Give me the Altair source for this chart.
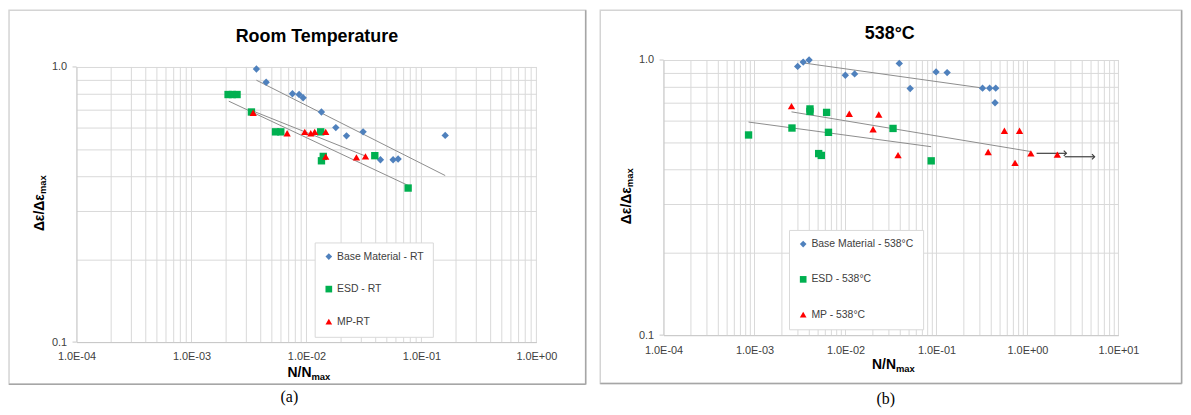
import math
import altair as alt
import pandas as pd

# ---------------- data ----------------
# (a) Room Temperature
rt_names = ["Base Material - RT", "ESD - RT", "MP-RT"]
rt_base_x = [0.00367, 0.00446, 0.00755, 0.00863, 0.00935, 0.0135, 0.0180, 0.0223, 0.0311, 0.0440, 0.0567, 0.0627, 0.161]
rt_base_y = [0.983, 0.880, 0.799, 0.794, 0.773, 0.686, 0.602, 0.562, 0.581, 0.460, 0.460, 0.463, 0.564]
rt_esd_x = [0.00208, 0.00227, 0.00249, 0.00332, 0.00538, 0.00598, 0.0133, 0.0135, 0.0140, 0.0393, 0.0766]
rt_esd_y = [0.794, 0.794, 0.794, 0.686, 0.581, 0.581, 0.581, 0.456, 0.473, 0.476, 0.363]
rt_mp_x = [0.00344, 0.00679, 0.00967, 0.0109, 0.0118, 0.0147, 0.0147, 0.0272, 0.0326]
rt_mp_y = [0.682, 0.574, 0.581, 0.574, 0.581, 0.581, 0.472, 0.469, 0.473]
# trend line end points (x0, y0, x1, y1)
rt_trend_base = [0.00367, 0.895, 0.161, 0.403]
rt_trend_esd = [0.00211, 0.751, 0.0766, 0.371]
rt_trend_mp = [0.00344, 0.691, 0.0332, 0.473]

# (b) 538°C
hot_names = ["Base Material - 538°C", "ESD - 538°C", "MP - 538°C"]
hot_base_x = [0.00298, 0.00343, 0.00398, 0.00996, 0.0126, 0.0390, 0.0514, 0.099, 0.131, 0.321, 0.384, 0.448, 0.44]
hot_base_y = [0.948, 0.983, 1.0, 0.880, 0.890, 0.972, 0.788, 0.905, 0.900, 0.790, 0.790, 0.790, 0.699]
hot_esd_x = [0.00086, 0.00258, 0.00407, 0.00407, 0.0062, 0.0065, 0.00507, 0.00542, 0.0333, 0.0875]
hot_esd_y = [0.534, 0.566, 0.664, 0.650, 0.645, 0.546, 0.457, 0.450, 0.564, 0.430]
hot_mp_x = [0.00255, 0.011, 0.0232, 0.0201, 0.0378, 0.370, 0.558, 0.818, 0.73, 1.09, 2.13]
hot_mp_y = [0.680, 0.638, 0.634, 0.560, 0.451, 0.463, 0.553, 0.553, 0.423, 0.458, 0.453]
hot_trend_base = [0.0035, 0.975, 0.33, 0.79]
hot_trend_esd = [0.00086, 0.595, 0.0875, 0.484]
hot_trend_mp = [0.00255, 0.648, 1.08, 0.465]
# run-out arrows (x_start, x_end, y)
hot_arrow_x0 = [1.26, 2.57]
hot_arrow_x1 = [2.68, 5.47]
hot_arrow_y = [0.458, 0.445]

# axes
x_labels_rt = ["1.0E-04", "1.0E-03", "1.0E-02", "1.0E-01", "1.0E+00"]
x_decades_rt = [1e-4, 1e-3, 1e-2, 1e-1, 1.0]
x_labels_hot = ["1.0E-04", "1.0E-03", "1.0E-02", "1.0E-01", "1.0E+00", "1.0E+01"]
x_decades_hot = [1e-4, 1e-3, 1e-2, 1e-1, 1.0, 10.0]
y_labels = ["0.1", "1.0"]
y_label_values = [0.1, 1.0]
y_grid = [0.1, 0.2, 0.3, 0.4, 0.5, 0.6, 0.7, 0.8, 0.9, 1.0]

colors = ["#4F81BD", "#00B050", "#FF0000"]
shapes = ["diamond", "square", "triangle-up"]

FONT = "Liberation Sans"
GRID = "#d9d9d9"


def x_grid(decades):
    vals = []
    for d in decades[:-1]:
        e = int(round(math.log10(d)))
        for k in range(1, 10):
            vals.append(float(f"{k}e{e}"))
    vals.append(decades[-1])
    return vals


def label_expr(values, labels):
    expr = "''"
    for v, l in reversed(list(zip(values, labels))):
        expr = f"datum.value == {repr(v)} ? '{l}' : ({expr})"
    return expr


def text_layer(txt, x, y, size, bold=True, angle=0, align="center", baseline="alphabetic",
               font=FONT, color="black"):
    return alt.Chart(pd.DataFrame({"t": [txt]})).mark_text(
        fontSize=size, fontWeight="bold" if bold else "normal", angle=angle, align=align,
        baseline=baseline, font=font, color=color
    ).encode(text="t:N", x=alt.value(x), y=alt.value(y))


def panel(names, xs, ys, trends, decades, xlabels, W, H, title, tpos, ytx, xtj, cap, cpos,
          frame, leg, shift=0, arrows=None):
    # shift: how far the plot area sits above the (layout-aligned) group top
    s = shift
    Hg = H - s
    xdom = [decades[0], decades[-1]]
    xscale = alt.Scale(type="log", domain=xdom, nice=False)
    yscale = alt.Scale(type="log", domain=[0.1, 1.0], nice=False, range=[Hg, -s])
    xaxis = alt.Axis(values=decades, labelExpr=label_expr(decades, xlabels), title=None,
                     grid=False, ticks=False, tickSize=0,
                     domainColor="#c8c8c8", labelFont=FONT, labelFontSize=11, labelColor="#404040",
                     labelPadding=9, labelFlush=False, labelOverlap=False)
    yaxis = alt.Axis(values=y_grid, labelExpr=label_expr(y_label_values, y_labels), title=None,
                     grid=True, gridColor=GRID, gridWidth=1, ticks=False, tickSize=0,
                     domainColor="#c8c8c8", labelFont=FONT, labelFontSize=11, labelColor="#404040",
                     labelPadding=10, labelFlush=False, labelOverlap=False)

    def X(f):
        return alt.X(f"{f}:Q", scale=xscale, axis=xaxis)

    def Y(f):
        return alt.Y(f"{f}:Q", scale=yscale, axis=yaxis)

    rows = []
    for n, xx, yy in zip(names, xs, ys):
        for a, b in zip(xx, yy):
            rows.append({"series": n, "x": a, "y": b})
    pts_df = pd.DataFrame(rows)

    trows = []
    for n, t in zip(names, trends):
        trows.append({"series": n, "x": t[0], "y": t[1]})
        trows.append({"series": n, "x": t[2], "y": t[3]})
    tr_df = pd.DataFrame(trows)

    one = pd.DataFrame({"a": [0]})
    fx0, fx1, fy0, fy1 = frame
    fy0 -= s
    fy1 -= s
    layers = [
        alt.Chart(one).mark_rect(fill="white", fillOpacity=0, stroke="#d4d4d4", strokeWidth=1.5).encode(
            x=alt.value(fx0), x2=alt.value(fx1), y=alt.value(fy0), y2=alt.value(fy1)),
        alt.Chart(one).mark_rule(color="#a6a6a6", strokeWidth=1.5).encode(
            x=alt.value(fx1), y=alt.value(fy0), y2=alt.value(fy1)),
        alt.Chart(one).mark_rule(color="#a6a6a6", strokeWidth=1.5).encode(
            x=alt.value(fx0), x2=alt.value(fx1), y=alt.value(fy1)),
    ]

    # vertical log grid lines
    gx_df = pd.DataFrame({"gx": x_grid(decades)})
    layers.append(alt.Chart(gx_df).mark_rule(color=GRID, strokeWidth=1).encode(
        x=X("gx"), y=alt.value(-s), y2=alt.value(Hg)))

    # y tick stubs at labelled values
    stub_df = pd.DataFrame({"y": y_label_values})
    layers.append(alt.Chart(stub_df).mark_rule(color="#c8c8c8").encode(
        x=alt.value(-4), x2=alt.value(0), y=Y("y")))

    layers.append(alt.Chart(tr_df).mark_line(color="#8c8c8c", strokeWidth=1).encode(
        x=X("x"), y=Y("y"), detail="series:N"))

    if arrows is not None:
        adf = pd.DataFrame({"x": arrows[0], "x2": arrows[1], "y": arrows[2]})
        layers.append(alt.Chart(adf).mark_rule(color="#404040", strokeWidth=1.2).encode(
            x=X("x"), x2="x2:Q", y=Y("y")))
        layers.append(alt.Chart(adf).mark_point(shape="M-1,-1L0,0L-1,1", filled=False, size=28,
                                                strokeWidth=1.2, color="#404040", opacity=1).encode(
            x=X("x2"), y=Y("y")))

    legend = alt.Legend(title=None, orient="none", legendX=leg[0], legendY=leg[1] - s, padding=9,
                        fillColor="white", strokeColor="#d9d9d9", rowPadding=leg[2],
                        labelFont=FONT, labelFontSize=10.5, labelColor="#404040", symbolSize=45,
                        labelOffset=3, symbolStrokeWidth=0, offset=0)
    layers.append(alt.Chart(pts_df).mark_point(filled=True, opacity=1, size=55, strokeWidth=0).encode(
        x=X("x"), y=Y("y"),
        color=alt.Color("series:N", scale=alt.Scale(domain=names, range=colors), legend=legend),
        shape=alt.Shape("series:N", scale=alt.Scale(domain=names, range=shapes), legend=legend),
    ))

    # titles & labels (y positions given relative to the plot top)
    layers.append(text_layer(title, tpos[0], tpos[1] - s, 18))
    layers.append(text_layer("Δε/Δε", ytx[0], ytx[1] - s, 14, angle=270, align="right"))
    layers.append(text_layer("max", ytx[0] + 2, ytx[1] - s, 9.5, angle=270, align="left"))
    layers.append(text_layer("N/N", xtj[0], xtj[1] - s, 14, align="right"))
    layers.append(text_layer("max", xtj[0], xtj[1] + 3 - s, 9.5, align="left"))
    layers.append(text_layer(cap, cpos[0], cpos[1] - s, 16, bold=False, baseline="middle",
                             font="Liberation Serif"))

    return alt.layer(*layers).properties(width=W, height=Hg)


LEFT_W = 463
RIGHT_X0 = 667.7 - 76.7  # plot-to-plot offset in the reference

left = panel(rt_names, [rt_base_x, rt_esd_x, rt_mp_x], [rt_base_y, rt_esd_y, rt_mp_y],
             [rt_trend_base, rt_trend_esd, rt_trend_mp], x_decades_rt, x_labels_rt,
             LEFT_W, 277, "Room Temperature", (242, -25), (-33.2, 128), (236.5, 311.7),
             "(a)", (214.3, 332.7), (-67.95, 512.6, -57.0, 319.4), (239.75, 176.7, 21.7))

right = panel(hot_names, [hot_base_x, hot_esd_x, hot_mp_x], [hot_base_y, hot_esd_y, hot_mp_y],
              [hot_trend_base, hot_trend_esd, hot_trend_mp], x_decades_hot, x_labels_hot,
              458, 277, "538°C", (227.8, -21.3), (-33.2, 128), (234, 311.1),
              "(b)", (223.8, 341.4), (-63.7, 521.6, -50.0, 325.7), (126.35, 171.1, 24.5),
              shift=7, arrows=(hot_arrow_x0, hot_arrow_x1, hot_arrow_y))

chart = alt.hconcat(left, right, spacing=RIGHT_X0 - LEFT_W, bounds="flush").resolve_scale(
    x="independent", y="independent", color="independent", shape="independent"
).resolve_legend(color="independent", shape="independent").configure_view(stroke=None).properties(padding=0)

chart.save("out.html", embed_options={"renderer": "svg", "actions": False})
